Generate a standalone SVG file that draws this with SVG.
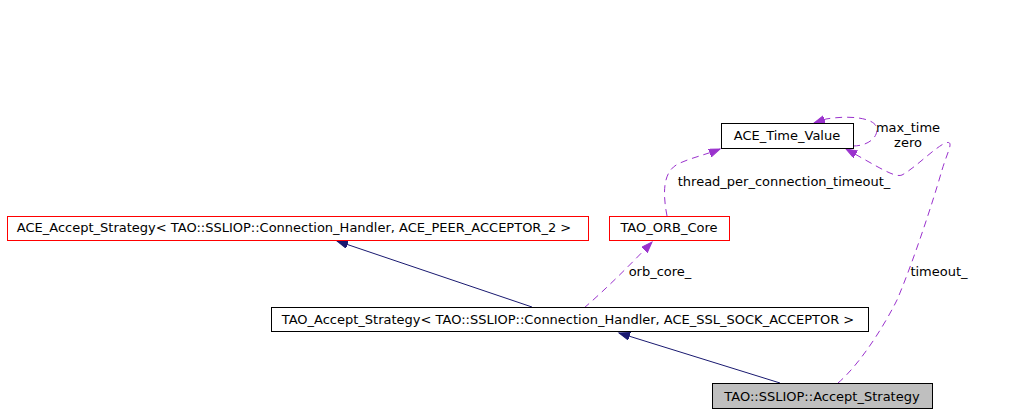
<svg xmlns="http://www.w3.org/2000/svg" width="1029" height="415" viewBox="0 0 1029 415">
<style>
text{font-family:"DejaVu Sans","Liberation Sans",sans-serif;font-size:13px;fill:#000}
.n{text-anchor:middle}
.box{fill:#fff;stroke:#000;stroke-width:1}
.red{stroke:#ff0000}
.gray{fill:#bfbfbf}
.inh{fill:none;stroke:#191970;stroke-width:1}
.use{fill:none;stroke:#9a32cd;stroke-width:1;stroke-dasharray:7,5}
</style>
<defs>
<marker id="ah" markerUnits="userSpaceOnUse" markerWidth="13" markerHeight="10" refX="11" refY="4" orient="auto">
<path d="M0,0 L11,4 L0,8 Z" fill="#191970" stroke="#191970" stroke-dasharray="none"/>
</marker>
<marker id="ap" markerUnits="userSpaceOnUse" markerWidth="13" markerHeight="10" refX="11" refY="4" orient="auto">
<path d="M0,0 L11,4 L0,8 Z" fill="#9a32cd" stroke="#9a32cd" stroke-dasharray="none"/>
</marker>
</defs>
<rect width="1029" height="415" fill="#fff"/>
<g id="connectors">
<path class="inh" d="M532,307 L337,241" marker-end="url(#ah)"/>
<path class="inh" d="M780,383 L619,333" marker-end="url(#ah)"/>
<path class="use" d="M584,308 C605,290 630,265 652,242" marker-end="url(#ap)"/>
<path class="use" d="M667,216 C663,195 662,172 678,164 C690,158 705,155 720,149" marker-end="url(#ap)"/>
<path class="use" d="M853,146 C870,146 880,135 876,126 C872,118 850,115 826,119 L814,123" marker-end="url(#ap)"/>
<path class="use" d="M838,383 C858,366 882,330 897,300 C912,265 932,205 942,170 C948,150 955,140 945,143 C932,150 915,168 902,175 C895,178 880,168 846,149" marker-end="url(#ap)"/>
<text class="n" x="908" y="132">max_time</text>
<text class="n" x="908" y="147">zero</text>
<text class="n" x="784" y="186">thread_per_connection_timeout_</text>
<text class="n" x="939" y="276">timeout_</text>
<text class="n" x="660" y="276">orb_core_</text>
</g>
<g id="ACE_Time_Value">
<rect class="box" x="721.5" y="123.5" width="132" height="25"/>
<text class="n" x="787" y="140">ACE_Time_Value</text>
</g>
<g id="ACE_Accept_Strategy">
<rect class="box red" x="7.5" y="216.5" width="581" height="24"/>
<text class="n" x="294" y="232">ACE_Accept_Strategy&lt; TAO::SSLIOP::Connection_Handler, ACE_PEER_ACCEPTOR_2 &gt;</text>
</g>
<g id="TAO_ORB_Core">
<rect class="box red" x="609.5" y="216.5" width="120" height="24"/>
<text class="n" x="669" y="232">TAO_ORB_Core</text>
</g>
<g id="TAO_Accept_Strategy">
<rect class="box" x="271.5" y="307.5" width="597" height="24"/>
<text class="n" x="568" y="324">TAO_Accept_Strategy&lt; TAO::SSLIOP::Connection_Handler, ACE_SSL_SOCK_ACCEPTOR &gt;</text>
</g>
<g id="SSLIOP_Accept_Strategy">
<rect class="box gray" x="712.5" y="383.5" width="220" height="25"/>
<text class="n" x="822" y="401">TAO::SSLIOP::Accept_Strategy</text>
</g>
</svg>
